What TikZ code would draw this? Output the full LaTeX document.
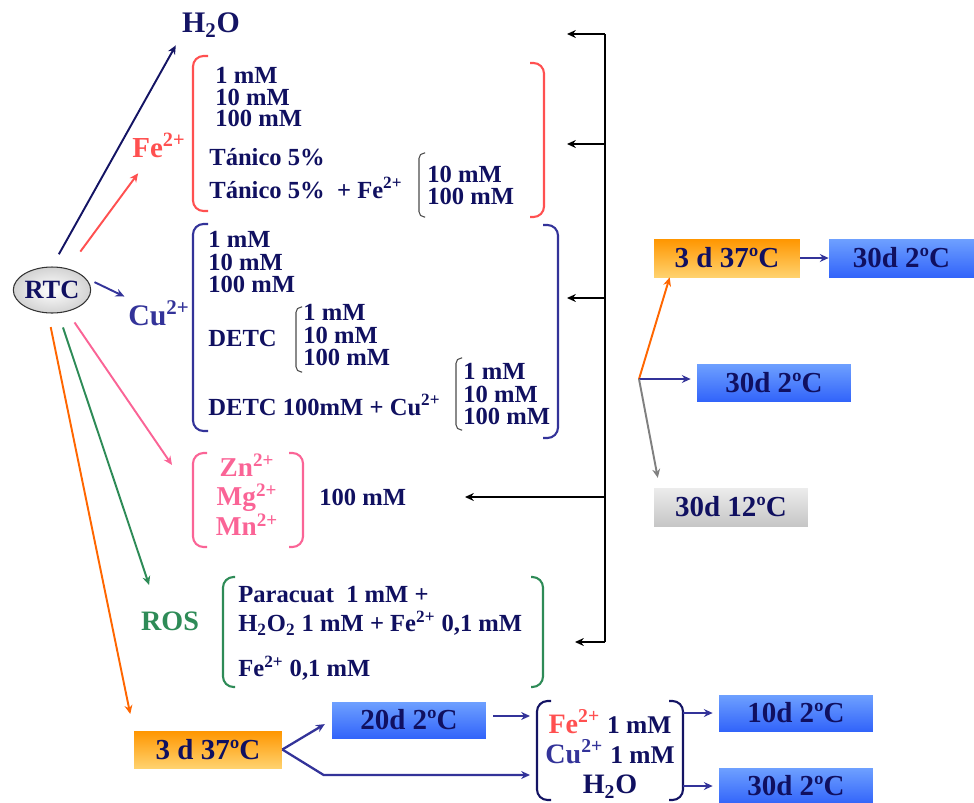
\documentclass[tikz,border=0pt]{standalone}
\usepackage{fontspec}
\setmainfont{Liberation Serif}
\usetikzlibrary{arrows.meta, positioning, shapes.geometric, calc}

\definecolor{navytxt}{RGB}{16,16,96}
\definecolor{cublue}{RGB}{51,51,153}
\definecolor{fered}{RGB}{255,80,80}
\definecolor{znpink}{RGB}{250,100,150}
\definecolor{rosgreen}{RGB}{46,139,87}
\definecolor{heatorange}{RGB}{255,102,0}
\definecolor{h2onavy}{RGB}{20,20,100}
\definecolor{coldtop}{RGB}{110,160,255}
\definecolor{coldbot}{RGB}{50,100,250}
\definecolor{warmtop}{RGB}{255,150,0}
\definecolor{warmbot}{RGB}{255,210,110}

\begin{document}
\begin{tikzpicture}[
    x=0.02cm, y=-0.02cm,
    >={Stealth[length=5pt, width=4.5pt]},
    txt/.style={inner sep=0pt, text=navytxt, font=\fontsize{14}{12.5}\selectfont\bfseries,
        align=left, anchor=west},
    wide/.style={txt, font=\fontsize{14}{12.6}\selectfont\bfseries},
    ion/.style={inner sep=2pt, font=\fontsize{16.5}{18}\selectfont\bfseries},
    brk/.style={line width=1.2pt, rounded corners=6pt},
    subbrk/.style={line width=0.6pt, black!70, rounded corners=3pt},
    fanarr/.style={->, line width=1.1pt},
    bus/.style={line width=1.4pt, black},
    busarr/.style={->, line width=1.4pt, black},
    flowarr/.style={->, line width=1.3pt, cublue},
    period/.style={rectangle, inner sep=0pt, minimum width=3.08cm, minimum height=0.74cm,
        text=navytxt, font=\fontsize{16.5}{18}\selectfont\bfseries},
    cold/.style={period, top color=coldtop, bottom color=coldbot},
    warm/.style={period, top color=warmtop, bottom color=warmbot},
    mild/.style={period, top color=gray!15, bottom color=gray!45},
]
\useasboundingbox (0,0) rectangle (974,802);

% ── Start ──
\node[ellipse, draw=black!80, line width=0.6pt, inner color=white, outer color=gray!35,
    minimum width=1.54cm, minimum height=0.92cm, inner sep=0pt, text=navytxt,
    font=\fontsize{15}{16}\selectfont\bfseries] (rtc) at (52,290) {RTC};

% ── Treatments ──
\node[ion, text=h2onavy, font=\fontsize{17}{18}\selectfont\bfseries] (h2o) at (211,25) {H\textsubscript{2}O};
\node[ion, text=fered] (fe) at (159,145) {Fe\textsuperscript{2+}};
\node[ion, text=cublue, font=\fontsize{17}{18}\selectfont\bfseries] (cu) at (159,313) {Cu\textsuperscript{2+}};
\node[ion, text=rosgreen, font=\fontsize{16}{18}\selectfont\bfseries] (ros) at (170,621) {ROS};

% ── Fe2+ group ──
\node[txt] (fe1) at (215,97) {1 mM\\10 mM\\100 mM};
\node[txt] (tan1) at (209,157) {Tánico 5\%};
\node[txt] (tan2) at (209,188) {Tánico 5\%\ \ + Fe\textsuperscript{2+}};
\node[txt] (fe2) at (427,185) {10 mM\\100 mM};
\draw[brk, fered] (208,56) -- (193,56) -- (193,211) -- (208,211);
\draw[brk, fered] (530,63) -- (544,63) -- (544,217) -- (530,217);
\draw[subbrk] (425,153) -- (419,153) -- (419,217) -- (425,217);

% ── Cu2+ group ──
\node[wide] (cu1) at (208,262) {1 mM\\10 mM\\100 mM};
\node[txt] (detc) at (208,338) {DETC};
\node[wide] (cu2) at (303,335) {1 mM\\10 mM\\100 mM};
\node[txt] (detccu) at (208,405) {DETC 100mM + Cu\textsuperscript{2+}};
\node[wide] (cu3) at (463,394) {1 mM\\10 mM\\100 mM};
\draw[brk, cublue] (208,224) -- (193,224) -- (193,431) -- (208,431);
\draw[brk, cublue] (543,225) -- (558,225) -- (558,438) -- (543,438);
\draw[subbrk] (302,307) -- (296,307) -- (296,372) -- (302,372);
\draw[subbrk] (462,358) -- (456,358) -- (456,430) -- (462,430);

% ── Zn / Mg / Mn group ──
\node[ion, text=znpink, inner sep=0pt, align=center, font=\fontsize{15.5}{17}\selectfont\bfseries]
    (zn) at (247,495) {Zn\textsuperscript{2+}\\Mg\textsuperscript{2+}\\Mn\textsuperscript{2+}};
\node[txt] (zncc) at (319,497) {100 mM};
\draw[brk, znpink] (207,453) -- (193,453) -- (193,547) -- (207,547);
\draw[brk, znpink] (289,453) -- (303,453) -- (303,547) -- (289,547);
\coordinate (znin) at (172,465);

% ── ROS group ──
\node[txt] (ros1) at (238,595) {Paracuat\ \ 1 mM +};
\node[txt] (ros2) at (238,623) {H\textsubscript{2}O\textsubscript{2} 1 mM + Fe\textsuperscript{2+} 0,1 mM};
\node[txt] (ros3) at (238,668) {Fe\textsuperscript{2+} 0,1 mM};
\draw[brk, rosgreen] (235,577) -- (223,577) -- (223,687) -- (235,687);
\draw[brk, rosgreen] (531,577) -- (543,577) -- (543,687) -- (531,687);

% ── Storage boxes ──
\node[warm, minimum width=2.92cm, minimum height=0.76cm] (top37) at (727,258) {3 d 37ºC};
\node[cold, minimum width=2.9cm, minimum height=0.76cm] (top30) at (901.5,258) {30d 2ºC};
\node[cold] (mid30) at (774,382.5) {30d 2ºC};
\node[mild, minimum height=0.76cm] (gray30) at (731,507) {30d 12ºC};
\node[warm, minimum width=2.96cm] (bot37) at (208,749.5) {3 d 37ºC};
\node[cold, minimum height=0.72cm] (d20) at (409,720) {20d 2ºC};
\node[cold, minimum height=0.72cm] (d10) at (796,713) {10d 2ºC};
\node[cold, minimum height=0.72cm] (d30) at (796,786) {30d 2ºC};

% ── Final mix ──
\node[inner sep=0pt, align=center, text=navytxt, font=\fontsize{16}{17}\selectfont\bfseries] (mix) at (610,754)
    {\textcolor{fered}{Fe\textsuperscript{2+}} {\fontsize{14.5}{17}\selectfont 1 mM}\\
     \textcolor{cublue}{Cu\textsuperscript{2+}} {\fontsize{14.5}{17}\selectfont 1 mM}\\
     H\textsubscript{2}O};
\draw[brk, h2onavy] (551,701) -- (537,701) -- (537,800) -- (551,800);
\draw[brk, h2onavy] (669,701) -- (683,701) -- (683,800) -- (669,800);
\coordinate (mixA) at (530,716);
\coordinate (mixB) at (530,775);
\coordinate (mixR) at (683,750);

% ── Arrows from RTC ──
\draw[fanarr, h2onavy, shorten <=0.28cm, shorten >=0.1cm] (rtc.north) -- (h2o.south west);
\draw[fanarr, fered, shorten <=0.42cm, shorten >=0.3cm] (rtc) -- (fe);
\draw[fanarr, cublue, shorten <=0.2cm] (rtc.20) -- (cu.north west);
\draw[fanarr, znpink, shorten <=0.26cm] (rtc.-55) -- (znin);
\draw[fanarr, rosgreen, shorten <=0.3cm, shorten >=0.48cm] (rtc.-75) -- (ros.135);
\draw[fanarr, heatorange, shorten <=0.28cm, shorten >=0.34cm] (rtc.-100) -- (bot37.north west);

% ── Common storage line ──
\coordinate (busT) at (605,34);
\coordinate (busB) at (605,642);
\draw[bus] (busT) -- (busB);
\foreach \y/\x in {34/567, 144/567, 298/567, 497/465, 642/575}
    \draw[busarr] (605,\y) -- (\x,\y);

% ── Storage branches ──
\coordinate (split) at (639,379);
\draw[fanarr, heatorange] (split) -- ([xshift=0.32cm]top37.south west);
\draw[flowarr, line width=1.1pt, shorten >=0.12cm] (split) -- (split -| mid30.west);
\draw[fanarr, gray, shorten >=0.2cm] (split) -- ([xshift=0.12cm]gray30.north west);
\draw[flowarr, line width=1.1pt] (top37) -- (top30);

% ── Bottom sequence ──
\draw[flowarr, shorten >=0.16cm] (bot37.east) -- (d20.west);
\draw[flowarr] (bot37.east) -- ([xshift=-0.16cm]d20.west |- mixB) -- (mixB);
\draw[flowarr, shorten <=0.14cm] (d20.east |- mixA) -- (mixA);
\draw[flowarr, shorten >=0.12cm] (mixR |- d10) -- (d10.west);
\draw[flowarr, shorten >=0.12cm] (mixR |- d30) -- (d30.west);

\end{tikzpicture}
\end{document}
